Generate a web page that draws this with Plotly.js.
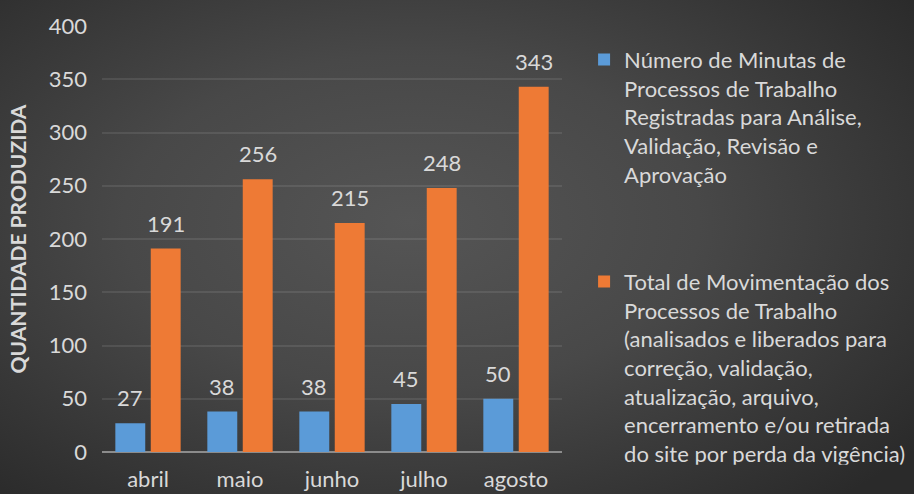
<!DOCTYPE html>
<html>
<head>
<meta charset="utf-8">
<script src="https://cdn.plot.ly/plotly-3.0.1.min.js"></script>
<style>
  html, body { margin: 0; padding: 0; }
  #chart {
    width: 914px; height: 494px;
    background: radial-gradient(ellipse 70% 75% at 45% 45%, #555555 0%, #484848 45%, #2a2a2a 100%);
  }
</style>
</head>
<body>
<div id="chart"></div>
<script>
const months = ["abril", "maio", "junho", "julho", "agosto"];
const minutas = [27, 38, 38, 45, 50];
const movimentacao = [191, 256, 215, 248, 343];
const seriesNames = [
  "Número de Minutas de<br>Processos de Trabalho<br>Registradas para Análise,<br>Validação, Revisão e<br>Aprovação",
  "Total de Movimentação dos<br>Processos de Trabalho<br>(analisados e liberados para<br>correção, validação,<br>atualização, arquivo,<br>encerramento e/ou retirada<br>do site por perda da vigência)"
];
const yTicks = [0, 50, 100, 150, 200, 250, 300, 350, 400];

const FONT = "Lato, 'Open Sans', sans-serif";
const TXT = "#d9d9d9";

const traces = [
  {
    type: "bar", name: seriesNames[0], x: months, y: minutas,
    legendgroup: "a",
    marker: { color: "#5b9bd8" }, hoverinfo: "y"
  },
  {
    type: "bar", name: seriesNames[1], x: months, y: movimentacao,
    legendgroup: "b",
    marker: { color: "#ee7a35" }, hoverinfo: "y"
  }
];

const annotations = [];
const offset = 17.75;
months.forEach((m, i) => {
  annotations.push({ x: m, y: minutas[i], text: String(minutas[i]), xref: "x", yref: "y",
    xshift: -offset, yshift: 10, yanchor: "bottom", showarrow: false,
    font: { family: FONT, size: 22, color: TXT } });
  annotations.push({ x: m, y: movimentacao[i], text: String(movimentacao[i]), xref: "x", yref: "y",
    xshift: offset, yshift: 10, yanchor: "bottom", showarrow: false,
    font: { family: FONT, size: 22, color: TXT } });
});

const layout = {
  width: 914, height: 494,
  margin: { l: 102, r: 352, t: 26, b: 42, autoexpand: false },
  paper_bgcolor: "rgba(0,0,0,0)",
  plot_bgcolor: "rgba(0,0,0,0)",
  font: { family: FONT, color: TXT, size: 22 },
  barmode: "group", bargap: 0.23, bargroupgap: 0.155,
  showlegend: true,
  legend: {
    x: 1.048, xanchor: "left", y: 0.97, yanchor: "top",
    valign: "top", tracegroupgap: 76,
    font: { family: FONT, size: 22, color: TXT },
    bgcolor: "rgba(0,0,0,0)"
  },
  xaxis: {
    type: "category", showgrid: false, ticks: "", showline: false, zeroline: false,
    ticklabelstandoff: 12,
    tickfont: { family: FONT, size: 22, color: TXT }
  },
  yaxis: {
    range: [0, 400], tickvals: yTicks, ticks: "",
    showgrid: true, gridcolor: "rgba(255,255,255,0.09)", gridwidth: 2,
    zeroline: true, zerolinecolor: "#8c8c8c", zerolinewidth: 2,
    ticklabelstandoff: 14,
    tickfont: { family: FONT, size: 22, color: TXT },
    title: { text: "<b>QUANTIDADE PRODUZIDA</b>", standoff: 16,
      font: { family: FONT, size: 21, color: TXT } }
  },
  annotations: annotations
};

Plotly.newPlot("chart", traces, layout, { displayModeBar: false, staticPlot: true });
</script>
</body>
</html>
